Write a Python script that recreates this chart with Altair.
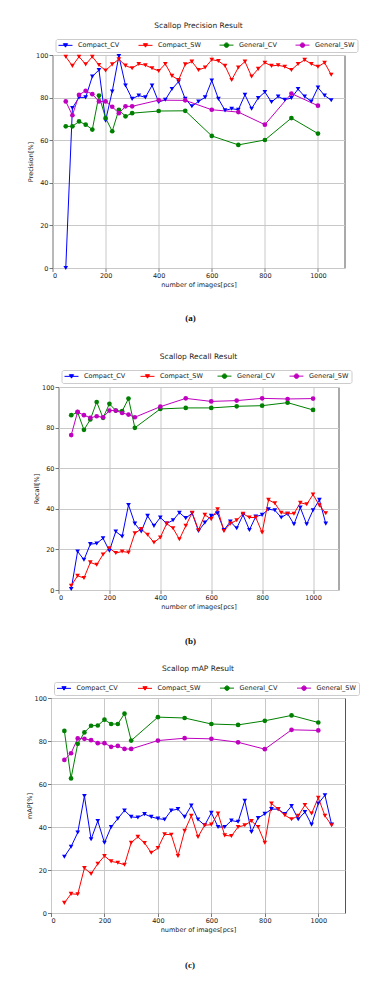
import altair as alt
import pandas as pd

SERIES = ["Compact_CV", "Compact_SW", "General_CV", "General_SW"]
COLORS = ["#0000ff", "#ff0000", "#008000", "#bf00bf"]

x_compact = [50, 75, 100, 125, 150, 175, 200, 225, 250, 275, 300, 325, 350, 375, 400,
             425, 450, 475, 500, 525, 550, 575, 600, 625, 650, 675, 700, 725, 750, 775,
             800, 825, 850, 875, 900, 925, 950, 975, 1000, 1025, 1050]
x_general = [50, 75, 100, 125, 150, 175, 200, 225, 250, 275, 300, 400, 500, 600, 700, 800, 900, 1000]

# Precision
prec_compact_cv = [0, 75.1, 80.1, 80.1, 89.9, 93.0, 69.2, 82.9, 99.5, 85.7, 79.4, 81.0, 80.1, 85.7, 77.9,
                   79.0, 84.0, 87.5, 79.4, 75.9, 78.2, 80.1, 88.0, 79.4, 74.0, 74.8, 74.3, 81.3, 74.8, 79.8,
                   82.6, 77.9, 80.5, 79.0, 79.8, 84.0, 80.5, 78.2, 84.7, 81.0, 78.8]
prec_compact_sw = [99.2, 94.9, 99.2, 95.6, 99.2, 95.3, 92.7, 95.6, 98.0, 95.0, 93.8, 95.8, 95.2, 93.8, 92.5,
                   95.8, 90.2, 88.3, 95.6, 96.9, 93.0, 94.1, 97.8, 97.2, 94.9, 88.3, 94.1, 96.9, 89.9, 93.5,
                   96.4, 94.9, 95.2, 94.5, 93.0, 95.8, 97.7, 95.8, 94.5, 96.4, 90.7]
prec_general_cv = [66.5, 66.5, 68.8, 67.3, 65.0, 81.0, 70.4, 64.2, 74.3, 71.2, 72.7, 73.7, 73.8, 62.0, 57.8, 60.1, 70.4, 63.1]
prec_general_sw = [78.2, 71.7, 81.3, 83.2, 81.6, 78.2, 78.2, 75.7, 72.7, 75.9, 75.9, 78.8, 78.7, 74.3, 73.2, 67.3, 81.9, 76.2]

# Recall
rec_compact_cv = [0.5, 19.0, 14.9, 22.6, 22.9, 25.5, 19.3, 28.8, 26.4, 41.9, 32.7, 28.8, 36.5, 31.6, 35.7,
                  32.7, 34.4, 38.1, 35.4, 37.8, 29.1, 33.2, 36.5, 37.8, 29.5, 33.7, 30.4, 37.0, 29.6, 36.2,
                  37.0, 39.8, 39.3, 35.7, 37.6, 32.4, 40.6, 32.4, 39.3, 44.4, 32.7]
rec_compact_sw = [2.1, 7.0, 5.9, 13.6, 12.4, 17.5, 20.6, 18.2, 19.0, 18.5, 28.0, 30.0, 27.2, 23.4, 25.9,
                  32.7, 30.4, 25.0, 31.6, 38.1, 29.6, 37.0, 34.9, 39.8, 29.1, 32.7, 34.4, 37.6, 35.7, 35.7,
                  28.3, 44.4, 42.7, 38.1, 37.6, 37.6, 43.0, 42.2, 47.0, 41.7, 37.8]
rec_general_cv = [86.1, 87.6, 78.9, 84.0, 92.6, 84.8, 91.7, 88.4, 88.1, 94.3, 79.9, 89.2, 89.7, 89.7, 90.5, 90.8, 92.3, 88.7]
rec_general_sw = [76.3, 87.7, 86.1, 84.8, 85.6, 85.1, 88.4, 88.4, 87.2, 86.4, 85.1, 90.3, 94.4, 92.9, 93.3, 94.4, 94.1, 94.3]

# mAP
map_compact_cv = [26.2, 30.8, 37.4, 54.4, 34.3, 42.8, 32.7, 40.0, 43.9, 47.7, 44.7, 44.4, 46.0, 44.7, 43.9,
                  43.5, 47.7, 48.3, 44.7, 50.0, 43.5, 40.8, 46.6, 40.0, 40.0, 43.0, 42.4, 52.2, 37.7, 44.2,
                  46.1, 48.3, 48.3, 46.0, 49.8, 43.6, 47.0, 41.1, 50.9, 54.8, 41.1]
map_compact_sw = [4.7, 8.9, 8.7, 20.9, 18.2, 22.9, 26.5, 24.0, 23.4, 22.4, 32.7, 35.4, 32.6, 28.0, 30.2,
                  36.6, 36.4, 26.5, 38.2, 45.2, 35.4, 40.8, 41.1, 46.3, 36.1, 35.8, 40.0, 40.8, 42.8, 40.0,
                  32.7, 50.9, 48.3, 45.5, 43.6, 45.2, 50.2, 46.3, 53.6, 45.2, 40.8]
map_general_cv = [84.7, 62.6, 78.7, 84.0, 87.1, 87.2, 89.9, 87.9, 87.9, 92.7, 80.2, 91.1, 90.7, 87.9, 87.5, 89.4, 91.9, 88.6]
map_general_sw = [71.2, 74.3, 81.2, 81.0, 80.4, 79.0, 79.0, 77.3, 77.7, 76.3, 76.3, 80.2, 81.3, 81.0, 79.4, 76.2, 85.2, 84.9]

x_ticks = [0, 200, 400, 600, 800, 1000]
y_ticks = [0, 20, 40, 60, 80, 100]

FONT = "DejaVu Sans"
TXT = "#222222"
FS = 6.5


def make_df(cc, cs, gc, gs):
    rows = []
    for s, xs, vs in [("Compact_CV", x_compact, cc), ("Compact_SW", x_compact, cs),
                      ("General_CV", x_general, gc), ("General_SW", x_general, gs)]:
        for xv, v in zip(xs, vs):
            rows.append({"x": xv, "v": v, "series": s})
    return pd.DataFrame(rows)


color_sig = ("datum.value=='Compact_CV'?'#0000ff':datum.value=='Compact_SW'?'#ff0000':"
             "datum.value=='General_CV'?'#008000':'#bf00bf'")
shape_sig = ("indexof(datum.value,'General')==0 ? "
             "'M-2.33,0H2.33M0.75,0A0.75,0.75 0 1,1 -0.75,0A0.75,0.75 0 1,1 0.75,0Z' : "
             "'M-2.33,0H2.33M-0.7,-0.55H0.7L0,0.6Z'")


def panel(df, title, ylabel, caption, w, h, legend_y, col_pad, cap_dy, pad_right=None, pad_bottom=None):
    base = alt.Chart(df)
    xenc = alt.X("x:Q", scale=alt.Scale(domain=[0, 1100], nice=False),
                 axis=alt.Axis(values=x_ticks, title="number of images[pcs]", format="d"))
    yenc = alt.Y("v:Q", scale=alt.Scale(domain=[0, 100], nice=False),
                 axis=alt.Axis(values=y_ticks, title=ylabel))
    legend = alt.Legend(
        orient="none", legendX=3, legendY=legend_y, direction="horizontal", columns=4,
        title=None, labelFont=FONT, labelFontSize=FS, labelColor=TXT, labelOffset=9,
        symbolSize=36, symbolStrokeWidth=1, symbolOffset=4, columnPadding=col_pad, padding=2.5,
        strokeColor="#cccccc", cornerRadius=2, fillColor="white",
        symbolType={"expr": shape_sig},
        symbolFillColor={"expr": color_sig},
        symbolStrokeColor={"expr": color_sig},
        symbolOpacity=1,
    )
    cscale = alt.Scale(domain=SERIES, range=COLORS)
    lines = base.mark_line(strokeWidth=1).encode(
        x=xenc, y=yenc,
        color=alt.Color("series:N", scale=cscale, legend=legend),
    )
    tri = base.transform_filter(alt.FieldOneOfPredicate(field="series", oneOf=SERIES[:2])).mark_point(
        filled=True, size=22, opacity=1, shape="triangle-down").encode(
        x=xenc, y=yenc, color=alt.Color("series:N", scale=cscale, legend=legend))
    circ = base.transform_filter(alt.FieldOneOfPredicate(field="series", oneOf=SERIES[2:])).mark_point(
        filled=True, size=22, opacity=1, shape="circle").encode(
        x=xenc, y=yenc, color=alt.Color("series:N", scale=cscale, legend=legend))
    layers = [lines, tri, circ]
    cap = alt.Chart(pd.DataFrame({"t": [caption]})).mark_text(
        font="Liberation Serif", fontSize=9, color="#111", fontWeight="bold"
    ).encode(text="t:N", x=alt.value(w / 2 - 8), y=alt.value(h + cap_dy))
    layers.append(cap)
    if pad_right is not None:
        layers.append(alt.Chart(pd.DataFrame({"t": ["."]})).mark_text(
            fontSize=6, color="white", align="left").encode(
            text="t:N", x=alt.value(w + pad_right), y=alt.value(h / 2)))
    if pad_bottom is not None:
        layers.append(alt.Chart(pd.DataFrame({"t": ["."]})).mark_text(
            fontSize=6, color="white").encode(
            text="t:N", x=alt.value(w / 2), y=alt.value(h + pad_bottom)))
    return alt.layer(*layers).properties(
        width=w, height=h,
        title=alt.TitleParams(title, font=FONT, fontSize=7.5, fontWeight="normal", color=TXT, offset=9),
    )


p1 = panel(make_df(prec_compact_cv, prec_compact_sw, prec_general_cv, prec_general_sw),
           "Scallop Precision Result", "Precision[%]", "(a)", 292, 213, -16, 16, 50,
           pad_right=3, pad_bottom=63)
p2 = panel(make_df(rec_compact_cv, rec_compact_sw, rec_general_cv, rec_general_sw),
           "Scallop Recall Result", "Recall[%]", "(b)", 280, 203, -17, 12, 51)
p3 = panel(make_df(map_compact_cv, map_compact_sw, map_general_cv, map_general_sw),
           "Scallop mAP Result", "mAP[%]", "(c)", 294, 215, -16, 17, 52)

chart = alt.vconcat(p1, p2, p3, spacing=17, center=True).resolve_scale(
    color="independent", shape="independent").configure(
    padding={"left": 17, "top": 13, "right": 0, "bottom": 0},
    font=FONT,
).configure_view(
    stroke="#555555", strokeWidth=1,
).configure_axis(
    grid=True, gridColor="#c8c8c8", gridWidth=1,
    domain=False, tickColor="#555555", tickSize=3.5, tickWidth=0.8,
    labelFont=FONT, labelFontSize=FS, labelColor=TXT, labelPadding=1,
    titleFont=FONT, titleFontSize=FS, titleColor=TXT, titleFontWeight="normal",
    titlePadding=2, minExtent=0,
)

chart.save("out.html", embed_options={"renderer": "svg", "actions": False})
